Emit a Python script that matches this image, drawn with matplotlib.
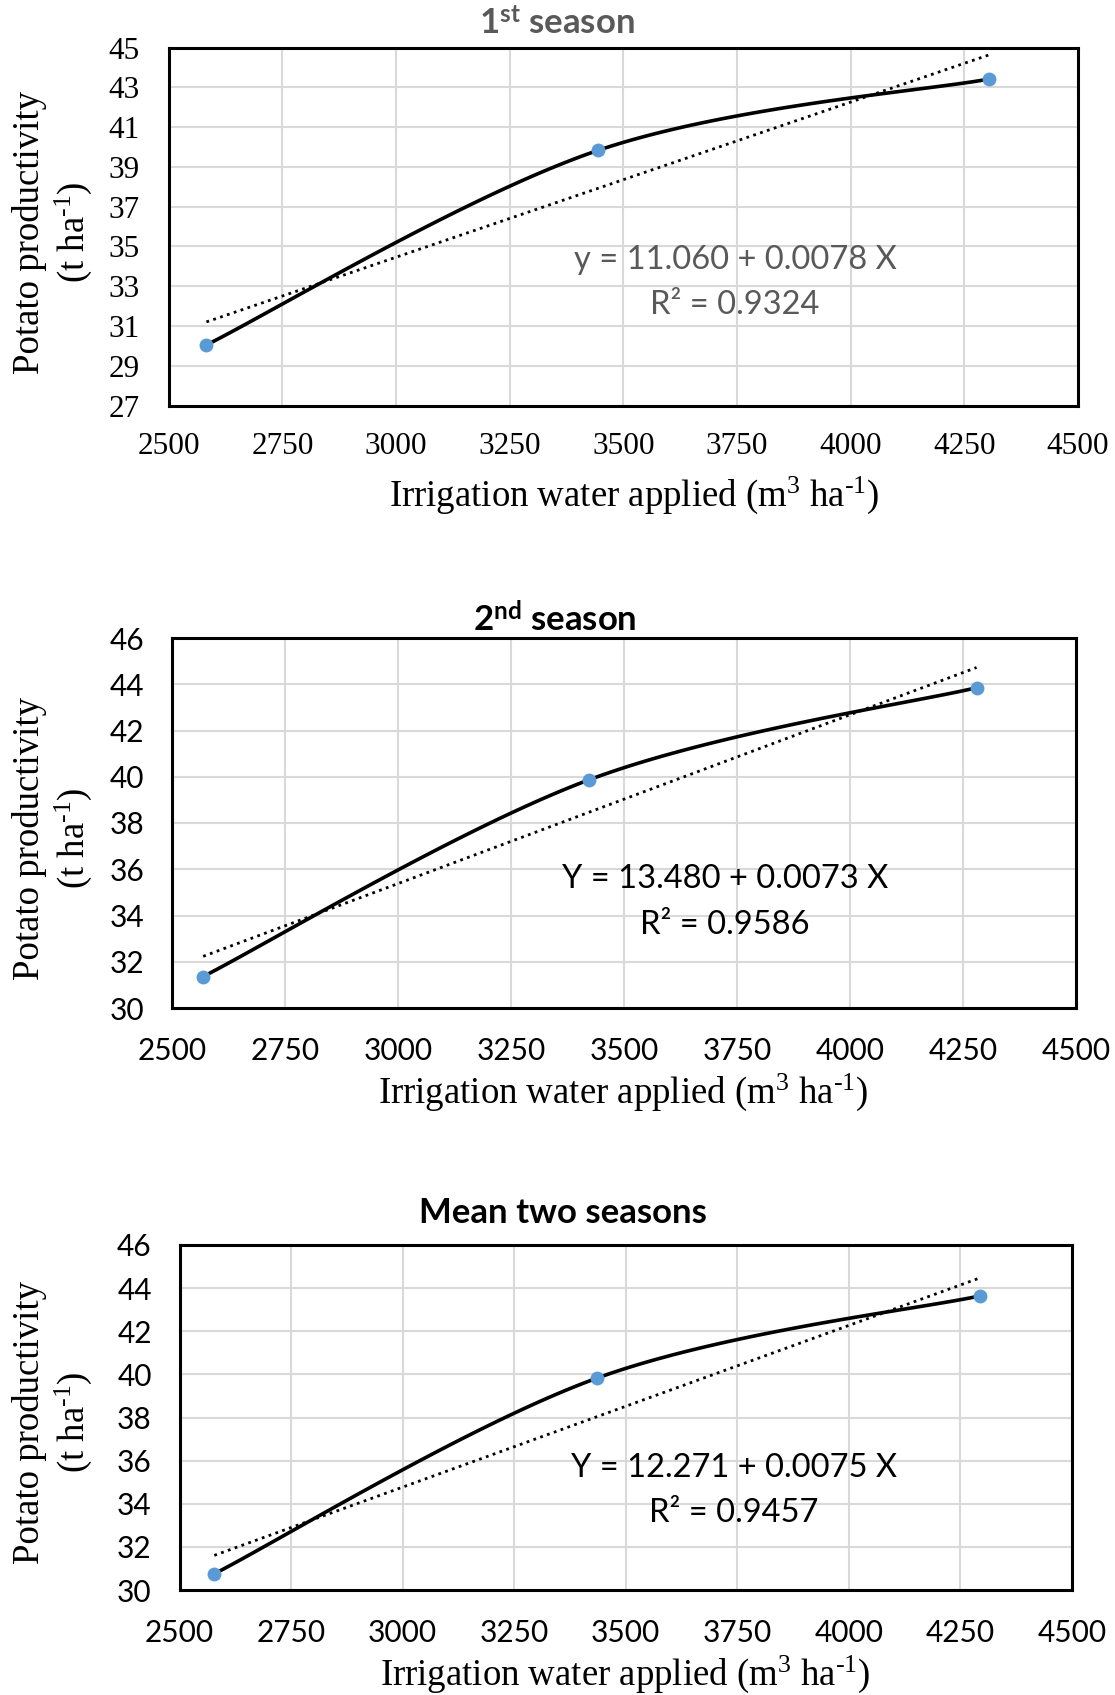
import numpy as np
import matplotlib
matplotlib.use("Agg")
import matplotlib.pyplot as plt

plt.rcParams['mathtext.fontset'] = 'custom'
plt.rcParams['mathtext.rm'] = 'Liberation Serif'
plt.rcParams['mathtext.it'] = 'Liberation Serif:italic'
plt.rcParams['mathtext.bf'] = 'Lato:bold'

# ---------------- data ----------------
titles = [r'1$^{\mathbf{st}}$ season', r'2$^{\mathbf{nd}}$ season', 'Mean two seasons']
water_s1 = [2583, 3444, 4305]
yield_s1 = [30.05, 39.83, 43.42]
water_s2 = [2569, 3423, 4280]
yield_s2 = [31.36, 39.87, 43.85]
water_mean = [2578, 3436, 4294]
yield_mean = [30.75, 39.83, 43.64]
intercepts = [11.060, 13.480, 12.271]
slopes = [0.0078, 0.0073, 0.0075]
r2_values = [0.9324, 0.9586, 0.9457]
eq_prefix = ['y', 'Y', 'Y']
x_ticks = [2500, 2750, 3000, 3250, 3500, 3750, 4000, 4250, 4500]
y_ticks_s1 = [27, 29, 31, 33, 35, 37, 39, 41, 43, 45]
y_ticks_s2 = [30, 32, 34, 36, 38, 40, 42, 44, 46]
y_ticks_mean = [30, 32, 34, 36, 38, 40, 42, 44, 46]

W, H = 1115, 1695
fig = plt.figure(figsize=(W / 100, H / 100), dpi=100)


def fx(x):
    return x / W


def fy(y):
    return 1 - y / H


panels = [
    dict(x=water_s1, y=yield_s1, yt=y_ticks_s1, box=(168.7, 47.6, 1078, 405.6),
         tickfont='Liberation Serif', tickcolor='black', tsize=22.5,
         title_pos=(557, 24), title_color='#595959',
         eq_pos=(735, 260), r2_pos=(735, 305), eq_color='#595959',
         ylab_x=(30, 73), ylab_y=232, xlab_pos=(634, 495), ypad=21, xpad=19),
    dict(x=water_s2, y=yield_s2, yt=y_ticks_s2, box=(172, 638, 1076, 1008),
         tickfont='Lato', tickcolor='black', tsize=21.5,
         title_pos=(555, 619), title_color='black',
         eq_pos=(725, 879), r2_pos=(725, 925), eq_color='black',
         ylab_x=(30, 73), ylab_y=838, xlab_pos=(623, 1092), ypad=20, xpad=21),
    dict(x=water_mean, y=yield_mean, yt=y_ticks_mean, box=(179.5, 1245, 1072, 1590),
         tickfont='Lato', tickcolor='black', tsize=21.5,
         title_pos=(563, 1213), title_color='black',
         eq_pos=(734, 1468), r2_pos=(734, 1513), eq_color='black',
         ylab_x=(30, 73), ylab_y=1422, xlab_pos=(625, 1674), ypad=20, xpad=21),
]


def excel_smooth(ax, xs, ys, n=60):
    pts = ax.transData.transform(np.column_stack([xs, ys]))
    P = np.vstack([pts[0], pts, pts[-1]])
    out = []
    t = np.linspace(0, 1, n)[:, None]
    for i in range(1, len(P) - 2):
        p0, p1, p2, p3 = P[i - 1], P[i], P[i + 1], P[i + 2]
        c1 = p1 + (p2 - p0) / 6
        c2 = p2 - (p3 - p1) / 6
        seg = ((1 - t) ** 3) * p1 + 3 * ((1 - t) ** 2) * t * c1 + 3 * (1 - t) * t ** 2 * c2 + t ** 3 * p2
        out.append(seg)
    out = np.vstack(out)
    return ax.transData.inverted().transform(out)


for i, p in enumerate(panels):
    l, t, r, b = p['box']
    ax = fig.add_axes([fx(l), fy(b), fx(r) - fx(l), fy(t) - fy(b)])
    ax.set_xlim(2500, 4500)
    ax.set_ylim(p['yt'][0], p['yt'][-1])
    ax.set_xticks(x_ticks)
    ax.set_yticks(p['yt'])
    ax.grid(True, color='#d9d9d9', linewidth=1.5)
    ax.set_axisbelow(True)
    for s in ax.spines.values():
        s.set_linewidth(2.2)
        s.set_color('black')
    ax.tick_params(length=0, labelsize=p['tsize'], labelcolor=p['tickcolor'])
    ax.tick_params(axis='y', pad=p['ypad'])
    ax.tick_params(axis='x', pad=p['xpad'])
    for lab in ax.get_xticklabels() + ax.get_yticklabels():
        lab.set_fontfamily(p['tickfont'])

    xs = np.array(p['x'], dtype=float)
    ys = np.array(p['y'], dtype=float)
    # trend line
    xt = np.array([xs.min(), xs.max()])
    ax.plot(xt, intercepts[i] + slopes[i] * xt, color='black', linestyle=(0, (1, 1.6)),
            linewidth=2.0, zorder=3)
    sm = excel_smooth(ax, xs, ys)
    ax.plot(sm[:, 0], sm[:, 1], color='black', linewidth=2.6, zorder=4)
    ax.plot(xs, ys, 'o', color='#5b9bd5', markersize=10, zorder=5, markeredgewidth=0)

    fig.text(fx(p['title_pos'][0]), fy(p['title_pos'][1]), titles[i], family='Lato',
             weight='bold', fontsize=25, color=p['title_color'], ha='center', va='center')
    fig.text(fx(p['eq_pos'][0]), fy(p['eq_pos'][1]),
             f"{eq_prefix[i]} = {intercepts[i]:.3f} + {slopes[i]:.4f} X",
             family='Lato', fontsize=23.5, color=p['eq_color'], ha='center', va='center')
    fig.text(fx(p['r2_pos'][0]), fy(p['r2_pos'][1]), f"R\u00b2 = {r2_values[i]:.4f}",
             family='Lato', fontsize=23.5, color=p['eq_color'], ha='center', va='center')

    fig.text(fx(p['ylab_x'][0]), fy(p['ylab_y']), 'Potato productivity', family='Liberation Serif',
             fontsize=26.5, rotation=90, ha='center', va='center')
    fig.text(fx(p['ylab_x'][1]), fy(p['ylab_y']), r'(t ha$^{\text{-1}}$)', family='Liberation Serif',
             fontsize=26.5, rotation=90, ha='center', va='center')
    fig.text(fx(p['xlab_pos'][0]), fy(p['xlab_pos'][1]),
             r'Irrigation water applied (m$^{3}$ ha$^{\text{-1}}$)', family='Liberation Serif',
             fontsize=26.5, ha='center', va='center')

fig.savefig('out.png', dpi=100, facecolor='white')
